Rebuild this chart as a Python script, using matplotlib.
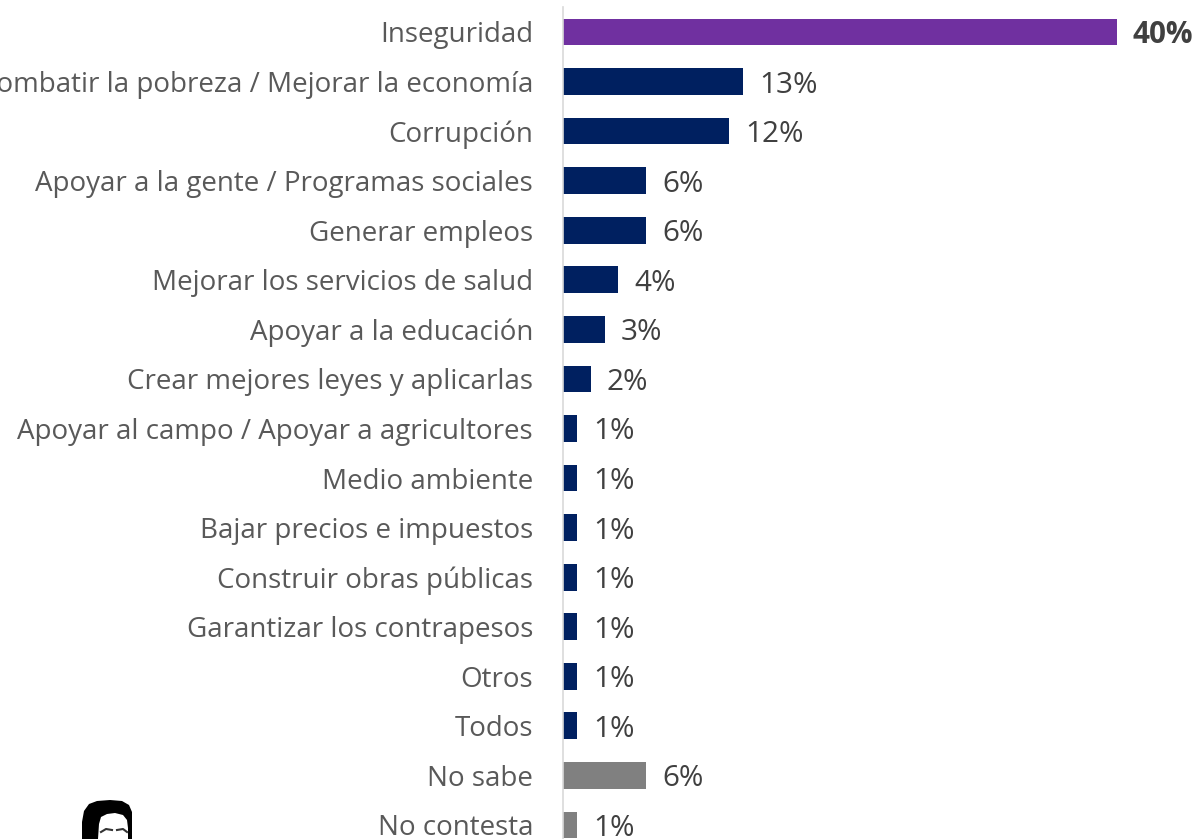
import matplotlib
matplotlib.use("Agg")
import matplotlib.pyplot as plt
from matplotlib.patches import Polygon

categories = [
    "Inseguridad",
    "Combatir la pobreza / Mejorar la economía",
    "Corrupción",
    "Apoyar a la gente / Programas sociales",
    "Generar empleos",
    "Mejorar los servicios de salud",
    "Apoyar a la educación",
    "Crear mejores leyes y aplicarlas",
    "Apoyar al campo / Apoyar a agricultores",
    "Medio ambiente",
    "Bajar precios e impuestos",
    "Construir obras públicas",
    "Garantizar los contrapesos",
    "Otros",
    "Todos",
    "No sabe",
    "No contesta",
]
values = [40, 13, 12, 6, 6, 4, 3, 2, 1, 1, 1, 1, 1, 1, 1, 6, 1]
labels = ["40%", "13%", "12%", "6%", "6%", "4%", "3%", "2%", "1%", "1%",
          "1%", "1%", "1%", "1%", "1%", "6%", "1%"]
groups = ["top"] + ["main"] * 14 + ["nr", "nr"]

colors_map = {"top": "#7030A0", "main": "#002060", "nr": "#808080"}
colors = [colors_map[g] for g in groups]

plt.rcParams['font.family'] = ['Open Sans', 'DejaVu Sans']

W, H, DPI = 1199, 839, 100
fig = plt.figure(figsize=(W / DPI, H / DPI), dpi=DPI)
fig.patch.set_facecolor("white")

left_px = 563
scale = 13.85  # px per percent
xmax = 45
top_px = 7.2
row = 49.56
ax = fig.add_axes([left_px / W, 0, xmax * scale / W, (H - top_px) / H])

ypos = list(range(len(categories)))
ax.barh(ypos, values, height=0.54, color=colors, edgecolor="none")
ax.set_xlim(0, xmax)
ax.set_ylim(-0.5 + (H - top_px) / row, -0.5)

ax.set_yticks(ypos)
ax.set_yticklabels(categories, fontsize=20, color="#595959")
ax.tick_params(axis="y", length=0, pad=21.6)
ax.set_xticks([])

for s in ["top", "right", "bottom"]:
    ax.spines[s].set_visible(False)
ax.spines["left"].set_color("#D9D9D9")
ax.spines["left"].set_linewidth(1.2)

for y, v, lab, g in zip(ypos, values, labels, groups):
    ax.annotate(lab, xy=(v, y), xytext=(11.5, 0), textcoords="offset points",
                ha="left", va="center_baseline", fontsize=21.3,
                fontweight="bold" if g == "top" else "normal",
                color="#404040", annotation_clip=False)

# small portrait icon at bottom left (decoration)
def px(points):
    return [(x / W, 1 - y / H) for x, y in points]

hair = [(82, 839), (82, 822), (84, 811), (89, 804), (97, 801), (110, 800),
        (122, 801), (129, 805), (132, 812), (132, 839)]
face = [(98, 839), (99, 824), (101, 817), (107, 814), (115, 813), (123, 815),
        (127, 820), (128, 828), (128, 839)]
fig.add_artist(Polygon(px(hair), closed=True, transform=fig.transFigure,
                       facecolor="black", edgecolor="none"))
fig.add_artist(Polygon(px(face), closed=True, transform=fig.transFigure,
                       facecolor="white", edgecolor="none"))
for brow in ([(101, 832), (106, 829), (112, 830)],
             [(117, 830), (123, 829), (127, 832)]):
    xs = [p[0] / W for p in brow]
    ys = [1 - p[1] / H for p in brow]
    fig.add_artist(plt.Line2D(xs, ys, transform=fig.transFigure,
                              color="#333333", linewidth=1.5))

fig.savefig("out.png", dpi=DPI)
